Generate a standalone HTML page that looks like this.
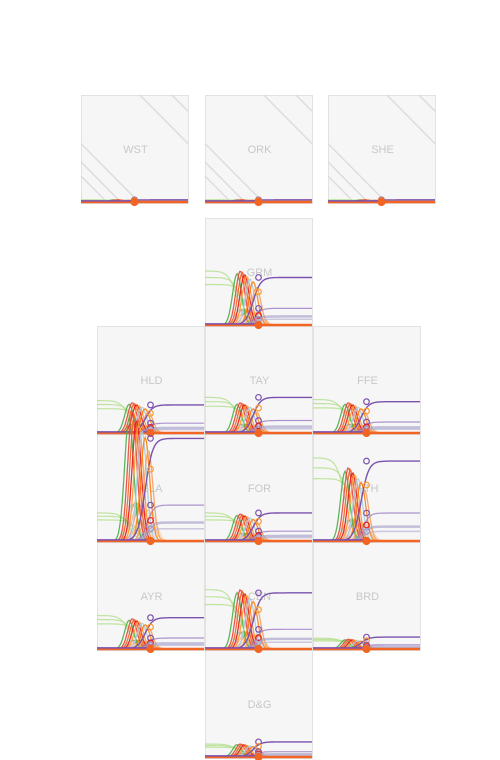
<!DOCTYPE html>
<html><head><meta charset="utf-8"><style>
html,body{margin:0;padding:0;background:#fff;}
svg{display:block;font-family:"Liberation Sans",sans-serif;}
</style></head><body>
<svg id="chart" width="500" height="760"></svg>
<script>
const labels=["WST","ORK","SHE","GRM","HLD","TAY","FFE","GLA","FOR","PTH","AYR","CEN","BRD","D&G"];
const colIdx=[0,1,2,1,0,1,2,0,1,2,0,1,2,1];
const rowIdx=[0,0,0,1,2,2,2,3,3,3,4,4,4,5];
const peakValues=[0.02,0.02,0.02,0.5,0.28,0.28,0.28,1.2,0.25,0.68,0.28,0.55,0.09,0.12];
const purpleValues=[0.02,0.02,0.02,0.44,0.26,0.33,0.29,0.95,0.26,0.74,0.29,0.52,0.11,0.14];
const leftValues=[0.02,0.02,0.02,0.5,0.3,0.33,0.31,0.26,0.26,0.77,0.31,0.55,0.1,0.12];
const bumpCenters=[0.3,0.33,0.35,0.37,0.39,0.42,0.45,0.48];
const bumpScales=[0.95,1.0,0.97,0.93,0.9,0.85,0.8,0.7];
const colors=["#4daf4a","#e8473c","#f26522","#e41a1c","#ff9a2e","#a6cee3","#ff7f0e","#f4a261"];

const NS="http://www.w3.org/2000/svg";
const svg=document.getElementById('chart');
function el(t,a){const e=document.createElementNS(NS,t);for(const k in a)e.setAttribute(k,a[k]);return e;}
const W=107,H=108;
function px(i){const c=colIdx[i];return rowIdx[i]===0?[81,205,328][c]:[97,205,313][c];}
function py(i){return [95,218,326,434,542,650][rowIdx[i]];}
const bg=el('g',{});svg.appendChild(bg);
const fg=el('g',{});svg.appendChild(fg);
labels.forEach((lab,i)=>{
  const x0=px(i),y0=py(i);
  const r=el('rect',{x:x0+0.5,y:y0+0.5,width:W,height:H,fill:'#f6f6f6',stroke:'#e2e2e2'});
  
  
  bg.appendChild(r);
  if(rowIdx[i]===0){
    [[0,0.45,0.55,1],[0,0.62,0.38,1],[0,0.75,0.25,1],[0.55,0,1,0.45],[0.85,0,1,0.15]].forEach(d=>{
      bg.appendChild(el('line',{x1:x0+d[0]*W,y1:y0+d[1]*H,x2:x0+d[2]*W,y2:y0+d[3]*H,stroke:'#ddd','stroke-width':1.5}));
    });
  }
  const t=el('text',{x:x0+W/2+1,y:y0+H/2+4,'text-anchor':'middle','font-size':11,fill:'#c8c8c8'});
  t.textContent=lab;
  
  
  bg.appendChild(t);
  const X=f=>x0+f*W, Y=v=>y0+H-1-v*H;
  const pk=peakValues[i],pu=purpleValues[i],lf=leftValues[i];
  const g=el('g',{});
  
  
  fg.appendChild(g);
  function path(fn,col,w,op){let d='';for(let k=0;k<=80;k++){const f=k/80;d+=(k?'L':'M')+X(f).toFixed(1)+','+Y(fn(f)).toFixed(1);}
    const p=el('path',{d:d,fill:'none',stroke:col,'stroke-width':w,opacity:op});g.appendChild(p);return p;}
  [1,0.88,0.75].forEach((s,k)=>path(f=>lf*s/(1+Math.exp((f-0.3-k*0.04)/0.04)),'#b2df8a',1.2,0.8));
  bumpCenters.forEach((c,k)=>path(f=>pk*0.3*bumpScales[k]*Math.exp(-Math.pow((f-c-0.03)/0.07,2)),colors[k],1,0.45));
  bumpCenters.forEach((c,k)=>{const p=path(f=>pk*bumpScales[k]*Math.exp(-Math.pow((f-c)/0.06,2)),colors[k],1.3,0.9);
    });
  path(f=>pu/(1+Math.exp(-(f-0.45)/0.035)),'#7b52ae',1.4,1);
  path(f=>pu*0.35/(1+Math.exp(-(f-0.47)/0.03)),'#9a7bc4',1.2,0.8);
  path(f=>pu*0.18/(1+Math.exp(-(f-0.47)/0.03)),'#9e9ac8',2.5,0.6);
  path(f=>pu*0.12/(1+Math.exp(-(f-0.47)/0.03)),'#b0a8d0',1.5,0.6);
  g.appendChild(el('line',{x1:X(0),y1:Y(0),x2:X(1),y2:Y(0),stroke:'#f26522','stroke-width':2.5}));
  g.appendChild(el('line',{x1:X(0),y1:Y(0.01),x2:X(0.5),y2:Y(0.01),stroke:'#7b52ae','stroke-width':1.5}));
  const cx=X(0.5);
  [[pu,'#7b52ae'],[pu*0.7,'#ff9a2e'],[pu*0.35,'#7b52ae'],[pu*0.2,'#e41a1c'],[pu*0.12,'#9e9ac8'],[0,'#f26522']].forEach((d,k)=>{
    const c=el('circle',{cx:cx,cy:Y(d[0]),r:k===5?3.5:2.8,fill:k===5?d[1]:'none',stroke:d[1],'stroke-width':1.2});
    
    
    g.appendChild(c);
  });
});
</script>
</body></html>
